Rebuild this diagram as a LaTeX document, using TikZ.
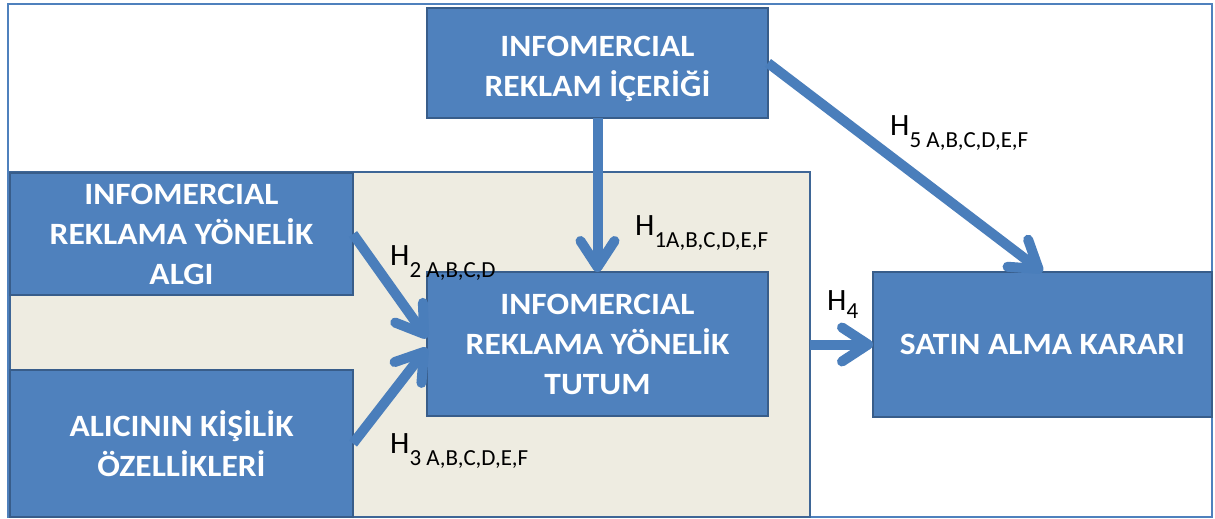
\documentclass[tikz,border=0pt]{standalone}
\usepackage{fontspec}
\setmainfont{Carlito}
\newfontfamily\boxfont[FakeStretch=1.08]{Carlito}
\usetikzlibrary{arrows.meta}
\definecolor{boxblue}{HTML}{4F81BD}
\definecolor{boxedge}{HTML}{385D8A}
\definecolor{panelfill}{HTML}{EEECE1}
\definecolor{paneledge}{HTML}{3E6696}
\definecolor{arrowblue}{HTML}{4A7EBB}
\tikzset{
  box/.style={rectangle, fill=boxblue, draw=boxedge, line width=2pt, inner sep=0pt, outer sep=0pt,
    text=white, align=center, font=\boxfont\bfseries\fontsize{31}{40}\selectfont, anchor=north west},
  arr/.style={draw=arrowblue, line width=10pt, -{Straight Barb[length=26pt, width=34pt, round]}},
  hyp/.style={anchor=base west, inner sep=0pt, font=\fontsize{31}{31}\selectfont, text=black},
}
\newcommand{\hsub}[1]{\raisebox{-12pt}{\fontsize{23}{23}\selectfont #1}}
\begin{document}
\begin{tikzpicture}[x=1pt,y=-1pt]
\useasboundingbox (0,0) rectangle (1215,519);
\fill[white] (0,0) rectangle (1215,519);
\draw[boxblue, line width=1.5pt] (8,4) rectangle (1212,517);
\node[rectangle, fill=panelfill, draw=paneledge, line width=2.5pt, inner sep=0pt, outer sep=0pt,
  minimum width=800pt, minimum height=345pt, anchor=north west] (panel) at (10,172) {};
\node[box, minimum width=341pt, minimum height=110pt] (top) at (427,8) {\rule{0pt}{32pt}INFOMERCIAL\\REKLAM İÇERİĞİ};
\node[box, minimum width=343pt, minimum height=122pt] (algi) at (10,173) {INFOMERCIAL\\REKLAMA YÖNELİK\\ALGI};
\node[box, minimum width=343pt, minimum height=147pt] (ozel) at (10,370) {ALICININ KİŞİLİK\\ÖZELLİKLERİ};
\node[box, minimum width=341pt, minimum height=144pt] (tutum) at (427,272) {INFOMERCIAL\\REKLAMA YÖNELİK\\TUTUM};
\node[box, minimum width=339pt, minimum height=145pt] (satin) at (873,272) {SATIN ALMA KARARI};
\draw[arr] (top.south) -- (tutum.north);
\draw[arr] (top.east) -- (satin.north);
\draw[arr] (algi.east) -- ([yshift=6pt]tutum.west);
\draw[arr] (ozel.east) -- ([yshift=-4pt]tutum.west);
\draw[arr] (panel.east |- satin.west) -- (satin.west);
\node[hyp] (h1) at (635,235) {H\hsub{1A,B,C,D,E,F}};
\node[hyp] (h2) at (390,265) {H\hsub{2 A,B,C,D}};
\node[hyp] (h3) at (390,453) {H\hsub{3 A,B,C,D,E,F}};
\node[hyp] (h4) at (827,310) {H\raisebox{-8pt}{\fontsize{23}{23}\selectfont 4}};
\node[hyp] (h5) at (890,135) {H\hsub{5 A,B,C,D,E,F}};
\end{tikzpicture}
\end{document}
